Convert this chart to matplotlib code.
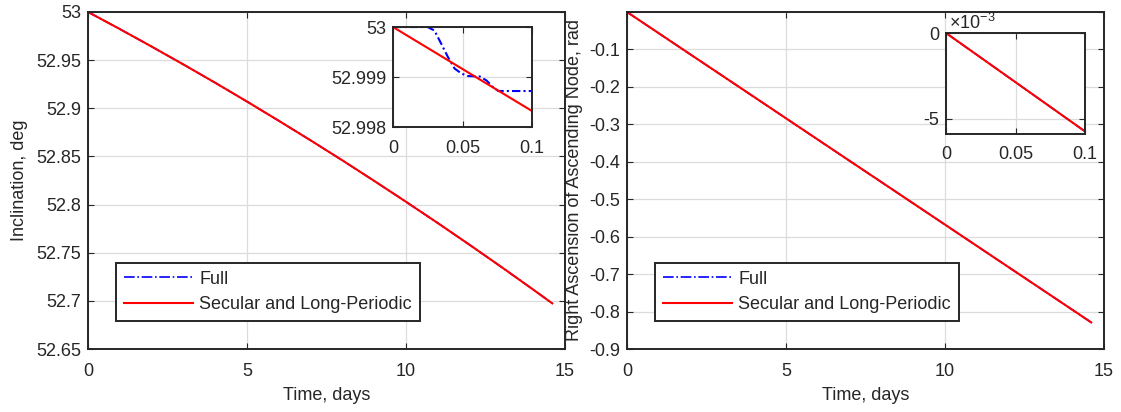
import matplotlib.pyplot as plt
import numpy as np

plt.rcParams["font.family"] = ["Liberation Sans", "DejaVu Sans"]
plt.rcParams["font.size"] = 13
plt.rcParams["mathtext.default"] = "regular"

# Main curves (days)
t_main = [0, 1, 2, 3, 4, 5, 6, 7, 8, 9, 10, 11, 12, 13, 14, 14.6]
inc_secular = [53.0, 52.9823, 52.9641, 52.9455, 52.9265, 52.9070, 52.8870,
               52.8667, 52.8459, 52.8246, 52.8029, 52.7808, 52.7582, 52.7352,
               52.7117, 52.6974]
inc_full = inc_secular
raan_secular = [0.0, -0.0568, -0.1136, -0.1703, -0.2271, -0.2839, -0.3407,
                -0.3975, -0.4542, -0.5110, -0.5678, -0.6246, -0.6814, -0.7381,
                -0.7949, -0.829]
raan_full = raan_secular

# Zoomed curves (first 0.1 days)
t_zoom = [0, 0.1]
inc_zoom_secular = [53.0, 52.99832]
t_zoom_full = [0, 0.0249, 0.0298, 0.0346, 0.0395, 0.0443, 0.0492, 0.054,
               0.0625, 0.0673, 0.0722, 0.0758, 0.1]
inc_zoom_full = [53.0, 53.0, 52.99993, 52.99967, 52.9994, 52.99917, 52.99907,
                 52.99902, 52.99901, 52.99893, 52.99879, 52.99872, 52.99872]
raan_zoom_secular = [0.0, -0.00575]
raan_zoom_full = raan_zoom_secular

dark = "#262626"
grid_c = "#dcdcdc"


def style(ax, xpad=10, ypad=5):
    ax.grid(True, color=grid_c, linewidth=0.9)
    ax.set_axisbelow(True)
    for s in ax.spines.values():
        s.set_color(dark)
        s.set_linewidth(1.4)
    ax.tick_params(direction="in", top=True, right=True, colors=dark,
                   labelcolor=dark, length=4)
    ax.tick_params(axis="x", pad=xpad)
    ax.tick_params(axis="y", pad=ypad)


def add_legend(ax):
    leg = ax.legend(loc="lower left", bbox_to_anchor=(0.0587, 0.083),
                    borderaxespad=0, fancybox=False, framealpha=1,
                    edgecolor=dark, handlelength=3.8, handletextpad=0.35,
                    labelspacing=0.45, borderpad=0.45)
    leg.get_frame().set_linewidth(1.4)
    for txt in leg.get_texts():
        txt.set_color(dark)


fig = plt.figure(figsize=(11.21, 4.12), dpi=100)

# left panel
ax1 = fig.add_axes([0.0785, 0.1529, 0.4255, 0.818])
ax1.plot(t_main, inc_full, "-.", color="blue", lw=1.2, label="Full")
ax1.plot(t_main, inc_secular, "-", color="red", lw=1.5,
         label="Secular and Long-Periodic")
ax1.set_xlim(0, 15)
ax1.set_ylim(52.65, 53)
ax1.set_xticks([0, 5, 10, 15])
ax1.set_yticks(np.arange(52.65, 53.001, 0.05))
ax1.set_yticklabels(["52.65", "52.7", "52.75", "52.8", "52.85", "52.9", "52.95", "53"])
ax1.set_xlabel("Time, days", color=dark, labelpad=5)
ax1.set_ylabel("Inclination, deg", color=dark, labelpad=6)
style(ax1)
add_legend(ax1)

ins1 = fig.add_axes([0.3506, 0.6917, 0.124, 0.2427])
ins1.plot(t_zoom_full, inc_zoom_full, "-.", color="blue", lw=1.5,
          dashes=(4, 1.5, 1, 1.5))
ins1.plot(t_zoom, inc_zoom_secular, "-", color="red", lw=1.5)
ins1.set_xlim(0, 0.1)
ins1.set_ylim(52.998, 53)
ins1.set_xticks([0, 0.05, 0.1])
ins1.set_xticklabels(["0", "0.05", "0.1"])
ins1.set_yticks([52.998, 52.999, 53])
ins1.set_yticklabels(["52.998", "52.999", "53"])
style(ins1, xpad=9, ypad=5)

# right panel
ax2 = fig.add_axes([0.5593, 0.1529, 0.4255, 0.818])
ax2.plot(t_main, raan_full, "-.", color="blue", lw=1.2, label="Full")
ax2.plot(t_main, raan_secular, "-", color="red", lw=1.5,
         label="Secular and Long-Periodic")
ax2.set_xlim(0, 15)
ax2.set_ylim(-0.9, 0)
ax2.set_xticks([0, 5, 10, 15])
ax2.set_yticks(np.arange(-0.9, 0.001, 0.1))
ax2.set_yticklabels(["-0.9", "-0.8", "-0.7", "-0.6", "-0.5", "-0.4", "-0.3",
                     "-0.2", "-0.1", ""])
ax2.set_xlabel("Time, days", color=dark, labelpad=5)
ax2.set_ylabel("Right Ascension of Ascending Node, rad", color=dark, labelpad=4)
style(ax2)
add_legend(ax2)

ins2 = fig.add_axes([0.8439, 0.6748, 0.124, 0.2451])
ins2.plot(t_zoom, raan_zoom_full, "-.", color="blue", lw=1.2)
ins2.plot(t_zoom, raan_zoom_secular, "-", color="red", lw=1.5)
ins2.set_xlim(0, 0.1)
ins2.set_ylim(-0.0059, 0)
ins2.set_xticks([0, 0.05, 0.1])
ins2.set_xticklabels(["0", "0.05", "0.1"])
ins2.set_yticks([-0.005, 0])
ins2.set_yticklabels(["-5", "0"])
style(ins2, xpad=9, ypad=5)
ins2.text(0.02, 1.0, r"$\times10^{-3}$", transform=ins2.transAxes, color=dark,
          fontsize=13, ha="left", va="bottom")

fig.savefig("out.png", dpi=100)
